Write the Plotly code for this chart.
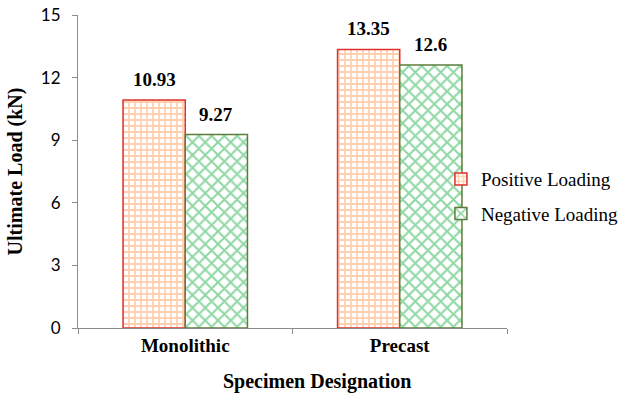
import plotly.graph_objects as go

categories = ["Monolithic", "Precast"]
positive_loading = [10.93, 13.35]
negative_loading = [9.27, 12.6]
y_ticks = [0, 3, 6, 9, 12, 15]

serif = "Liberation Serif, Times New Roman, serif"
bar_gap = 0.42

fig = go.Figure()
fig.add_trace(go.Bar(
    name="Positive Loading",
    x=categories, y=positive_loading,
    legendgroup="pos",
    marker=dict(
        color="white",
        line=dict(color="#e0302a", width=1.5),
        pattern=dict(shape="+", fgcolor="#ffa262", bgcolor="white",
                     size=6, solidity=0.5, fillmode="overlay"),
    ),
))
fig.add_trace(go.Bar(
    name="Negative Loading",
    x=categories, y=negative_loading,
    legendgroup="neg",
    marker=dict(
        color="white",
        line=dict(color="#5e7d3a", width=1.5),
        pattern=dict(shape="x", fgcolor="#1fb04a", bgcolor="white",
                     size=9, solidity=0.4, fillmode="overlay"),
    ),
))

# value labels above each bar, placed at the centre of its slot in the group
half_slot = (1 - bar_gap) / 4
for values, offset in ((positive_loading, -half_slot), (negative_loading, half_slot)):
    for i, v in enumerate(values):
        fig.add_annotation(
            x=i + offset, y=v, text=f"{v:g}",
            xref="x", yref="y", showarrow=False,
            yanchor="bottom", yshift=8,
            font=dict(family=serif, size=19, color="black", weight="bold"),
        )

# x-axis title, set slightly right of the plot centre
fig.add_annotation(
    text="Specimen Designation", xref="paper", yref="paper",
    x=0.557, y=-0.172, xanchor="center", yanchor="middle", showarrow=False,
    font=dict(family=serif, size=20, color="black", weight="bold"),
)

fig.update_layout(
    width=622, height=397,
    margin=dict(l=78, r=115, t=15, b=69, autoexpand=False),
    paper_bgcolor="white", plot_bgcolor="white",
    barmode="group", bargap=bar_gap, bargroupgap=0,
    showlegend=True,
    legend=dict(
        x=0.846, y=0.42, xanchor="left", yanchor="middle",
        font=dict(family=serif, size=19, color="black"),
        bgcolor="rgba(0,0,0,0)", itemwidth=30,
        traceorder="grouped", tracegroupgap=7,
    ),
)

fig.update_xaxes(
    automargin=False,
    showline=True, linecolor="#8c8c8c", linewidth=1.2,
    ticks="outside", tickson="boundaries", ticklen=5, tickcolor="#8c8c8c",
    tickfont=dict(family=serif, size=19, color="black", weight="bold"),
    showgrid=False,
)
fig.update_yaxes(
    automargin=False,
    range=[0, 15], tickvals=y_ticks,
    showline=True, linecolor="#8c8c8c", linewidth=1.2,
    ticks="outside", ticklen=5, tickcolor="#8c8c8c", ticklabelstandoff=8,
    tickfont=dict(family="Lato, Carlito, sans-serif", size=17, color="black"),
    title=dict(text="Ultimate Load (kN)", standoff=12,
               font=dict(family=serif, size=20, color="black", weight="bold")),
    showgrid=False, zeroline=False,
)

fig.write_html("out.html")
